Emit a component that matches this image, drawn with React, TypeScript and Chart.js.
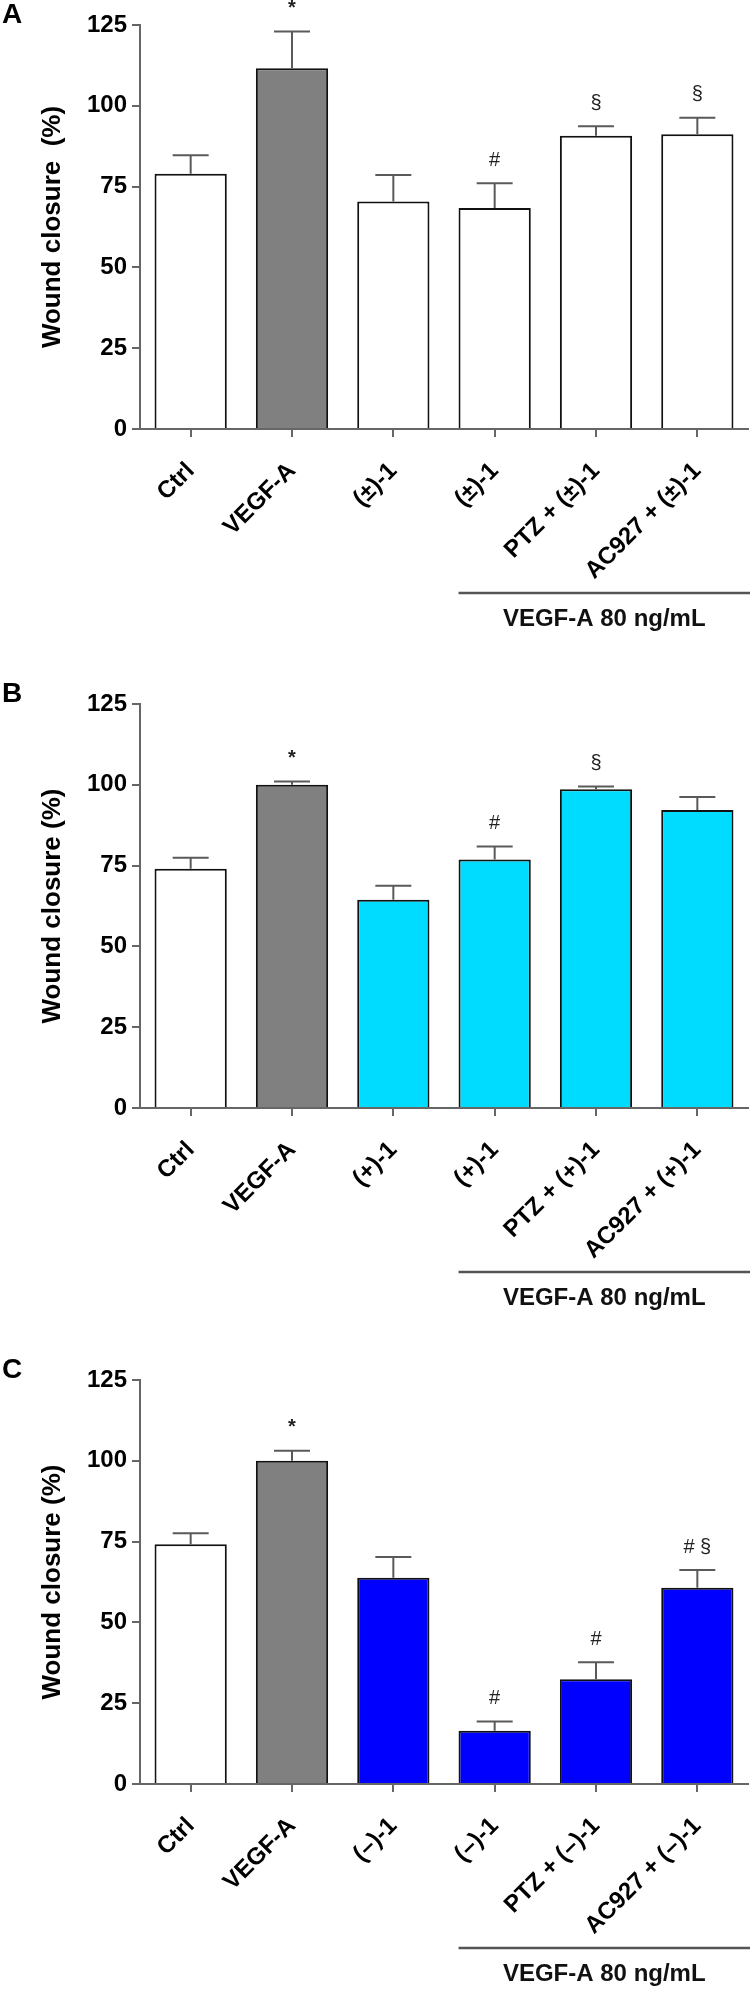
import React, { useEffect, useRef } from "react";
import { Chart, registerables } from "chart.js";

Chart.register(...registerables);

const FONT = "'Liberation Sans', Arial, Helvetica, sans-serif";

// ---------- data ----------
const labelsA = ["Ctrl", "VEGF-A", "(±)-1", "(±)-1", "PTZ + (±)-1", "AC927 + (±)-1"];
const meansA = [79.0, 111.6, 70.4, 68.4, 90.7, 91.2];
const errsA = [5.7, 11.4, 8.2, 7.6, 3.0, 5.1];
const notesA = ["", "*", "", "#", "§", "§"];

const labelsB = ["Ctrl", "VEGF-A", "(+)-1", "(+)-1", "PTZ + (+)-1", "AC927 + (+)-1"];
const meansB = [74.0, 100.0, 64.4, 76.9, 98.6, 92.2];
const errsB = [3.4, 1.0, 4.4, 4.0, 0.9, 4.0];
const notesB = ["", "*", "", "#", "§", ""];

const labelsC = ["Ctrl", "VEGF-A", "(–)-1", "(–)-1", "PTZ + (–)-1", "AC927 + (–)-1"];
const meansC = [74.2, 100.0, 63.8, 16.5, 32.4, 60.7];
const errsC = [3.4, 3.1, 6.4, 2.8, 5.3, 5.5];
const notesC = ["", "*", "", "#", "#", "# §"];

const yTicks = [0, 25, 50, 75, 100, 125];
const bracketText = "VEGF-A 80 ng/mL";

const colorsA = ["#ffffff", "#808080", "#ffffff", "#ffffff", "#ffffff", "#ffffff"];
const colorsB = ["#ffffff", "#808080", "#00dcff", "#00dcff", "#00dcff", "#00dcff"];
const colorsC = ["#ffffff", "#808080", "#0000ff", "#0000ff", "#0000ff", "#0000ff"];

type PanelProps = {
  letter: string;
  title: string;
  labels: string[];
  means: number[];
  errs: number[];
  notes: string[];
  colors: string[];
  top: number;
  height: number;
};

const AXIS = "#666666";
const PLOT_BOTTOM = 429;

function Panel(p: PanelProps) {
  const ref = useRef<HTMLCanvasElement | null>(null);
  useEffect(() => {
    if (!ref.current) return;
    const extras = {
      id: "extras",
      afterDatasetsDraw(chart: any) {
        const ctx = chart.ctx;
        const meta = chart.getDatasetMeta(0);
        const ys = chart.scales.y;
        ctx.save();
        // error bars
        ctx.strokeStyle = "#5a5a5a";
        ctx.lineWidth = 2;
        meta.data.forEach((bar: any, i: number) => {
          const yTop = ys.getPixelForValue(p.means[i] + p.errs[i]);
          ctx.beginPath();
          ctx.moveTo(bar.x, bar.y);
          ctx.lineTo(bar.x, yTop);
          ctx.moveTo(bar.x - 18, yTop);
          ctx.lineTo(bar.x + 18, yTop);
          ctx.stroke();
          const note = p.notes[i];
          if (note) {
            ctx.fillStyle = "#222";
            ctx.textAlign = "center";
            ctx.textBaseline = "middle";
            ctx.font = (note === "*" ? "bold 20px " : "20px ") + FONT;
            ctx.fillText(note, bar.x, yTop - 23);
          }
        });
        // bracket
        const b3: any = meta.data[3];
        const x0 = b3.x - b3.width / 2;
        const x1 = chart.width;
        const yb = chart.chartArea.bottom + 164;
        ctx.strokeStyle = "#555";
        ctx.lineWidth = 2.5;
        ctx.beginPath();
        ctx.moveTo(x0, yb);
        ctx.lineTo(x1, yb);
        ctx.stroke();
        ctx.fillStyle = "#111";
        ctx.font = "bold 24px " + FONT;
        ctx.textAlign = "center";
        ctx.textBaseline = "middle";
        ctx.fillText(bracketText, (x0 + x1) / 2, yb + 26);
        // panel letter
        ctx.font = "bold 28px " + FONT;
        ctx.textAlign = "left";
        ctx.textBaseline = "top";
        ctx.fillStyle = "#000";
        ctx.fillText(p.letter, 2, 1);
        ctx.restore();
      },
    };
    const chart = new Chart(ref.current, {
      type: "bar",
      data: {
        labels: p.labels,
        datasets: [
          {
            data: p.means,
            backgroundColor: p.colors,
            borderColor: "#111",
            borderWidth: 2,
            barPercentage: 0.713,
            categoryPercentage: 1,
          },
        ],
      },
      options: {
        responsive: false,
        animation: false,
        devicePixelRatio: 1,
        layout: { padding: { top: 25, right: 2, left: 0, bottom: 0 } },
        plugins: { legend: { display: false }, tooltip: { enabled: false } },
        scales: {
          x: {
            type: "category",
            offset: true,
            grid: {
              display: true,
              offset: false,
              drawOnChartArea: false,
              drawTicks: true,
              tickLength: 8,
              color: AXIS,
              lineWidth: 2,
            },
            border: { display: true, color: AXIS, width: 2 },
            ticks: {
              color: "#000",
              font: { family: FONT, size: 24, weight: "bold" },
              maxRotation: 45,
              minRotation: 45,
              padding: 20,
              autoSkip: false,
            },
            afterFit: (s: any) => {
              s.height = p.height - PLOT_BOTTOM;
            },
          },
          y: {
            min: 0,
            max: 125,
            afterBuildTicks: (s: any) => {
              s.ticks = yTicks.map((v) => ({ value: v }));
            },
            ticks: {
              color: "#000",
              font: { family: FONT, size: 24, weight: "bold" },
              padding: 5,
            },
            grid: {
              drawOnChartArea: false,
              drawTicks: true,
              tickLength: 8,
              color: AXIS,
              lineWidth: 2,
            },
            border: { display: true, color: AXIS, width: 2 },
            title: {
              display: true,
              text: p.title,
              color: "#000",
              font: { family: FONT, size: 26, weight: "bold" },
              padding: { top: 37, bottom: 0 },
            },
            afterFit: (s: any) => {
              s.width = 140;
            },
          },
        },
      },
      plugins: [extras],
    } as any);
    return () => chart.destroy();
  }, []);
  return (
    <div style={{ position: "absolute", left: 0, top: p.top, width: 750, height: p.height }}>
      <canvas ref={ref} width={750} height={p.height} style={{ width: 750, height: p.height, display: "block" }} />
    </div>
  );
}

export default function App() {
  return (
    <div style={{ position: "absolute", left: 0, top: 0, width: 750, height: 1990, background: "#fff" }}>
      <Panel letter="A" title="Wound closure  (%)" labels={labelsA} means={meansA} errs={errsA} notes={notesA} colors={colorsA} top={0} height={679} />
      <Panel letter="B" title="Wound closure (%)" labels={labelsB} means={meansB} errs={errsB} notes={notesB} colors={colorsB} top={679} height={676} />
      <Panel letter="C" title="Wound closure (%)" labels={labelsC} means={meansC} errs={errsC} notes={notesC} colors={colorsC} top={1355} height={635} />
    </div>
  );
}
